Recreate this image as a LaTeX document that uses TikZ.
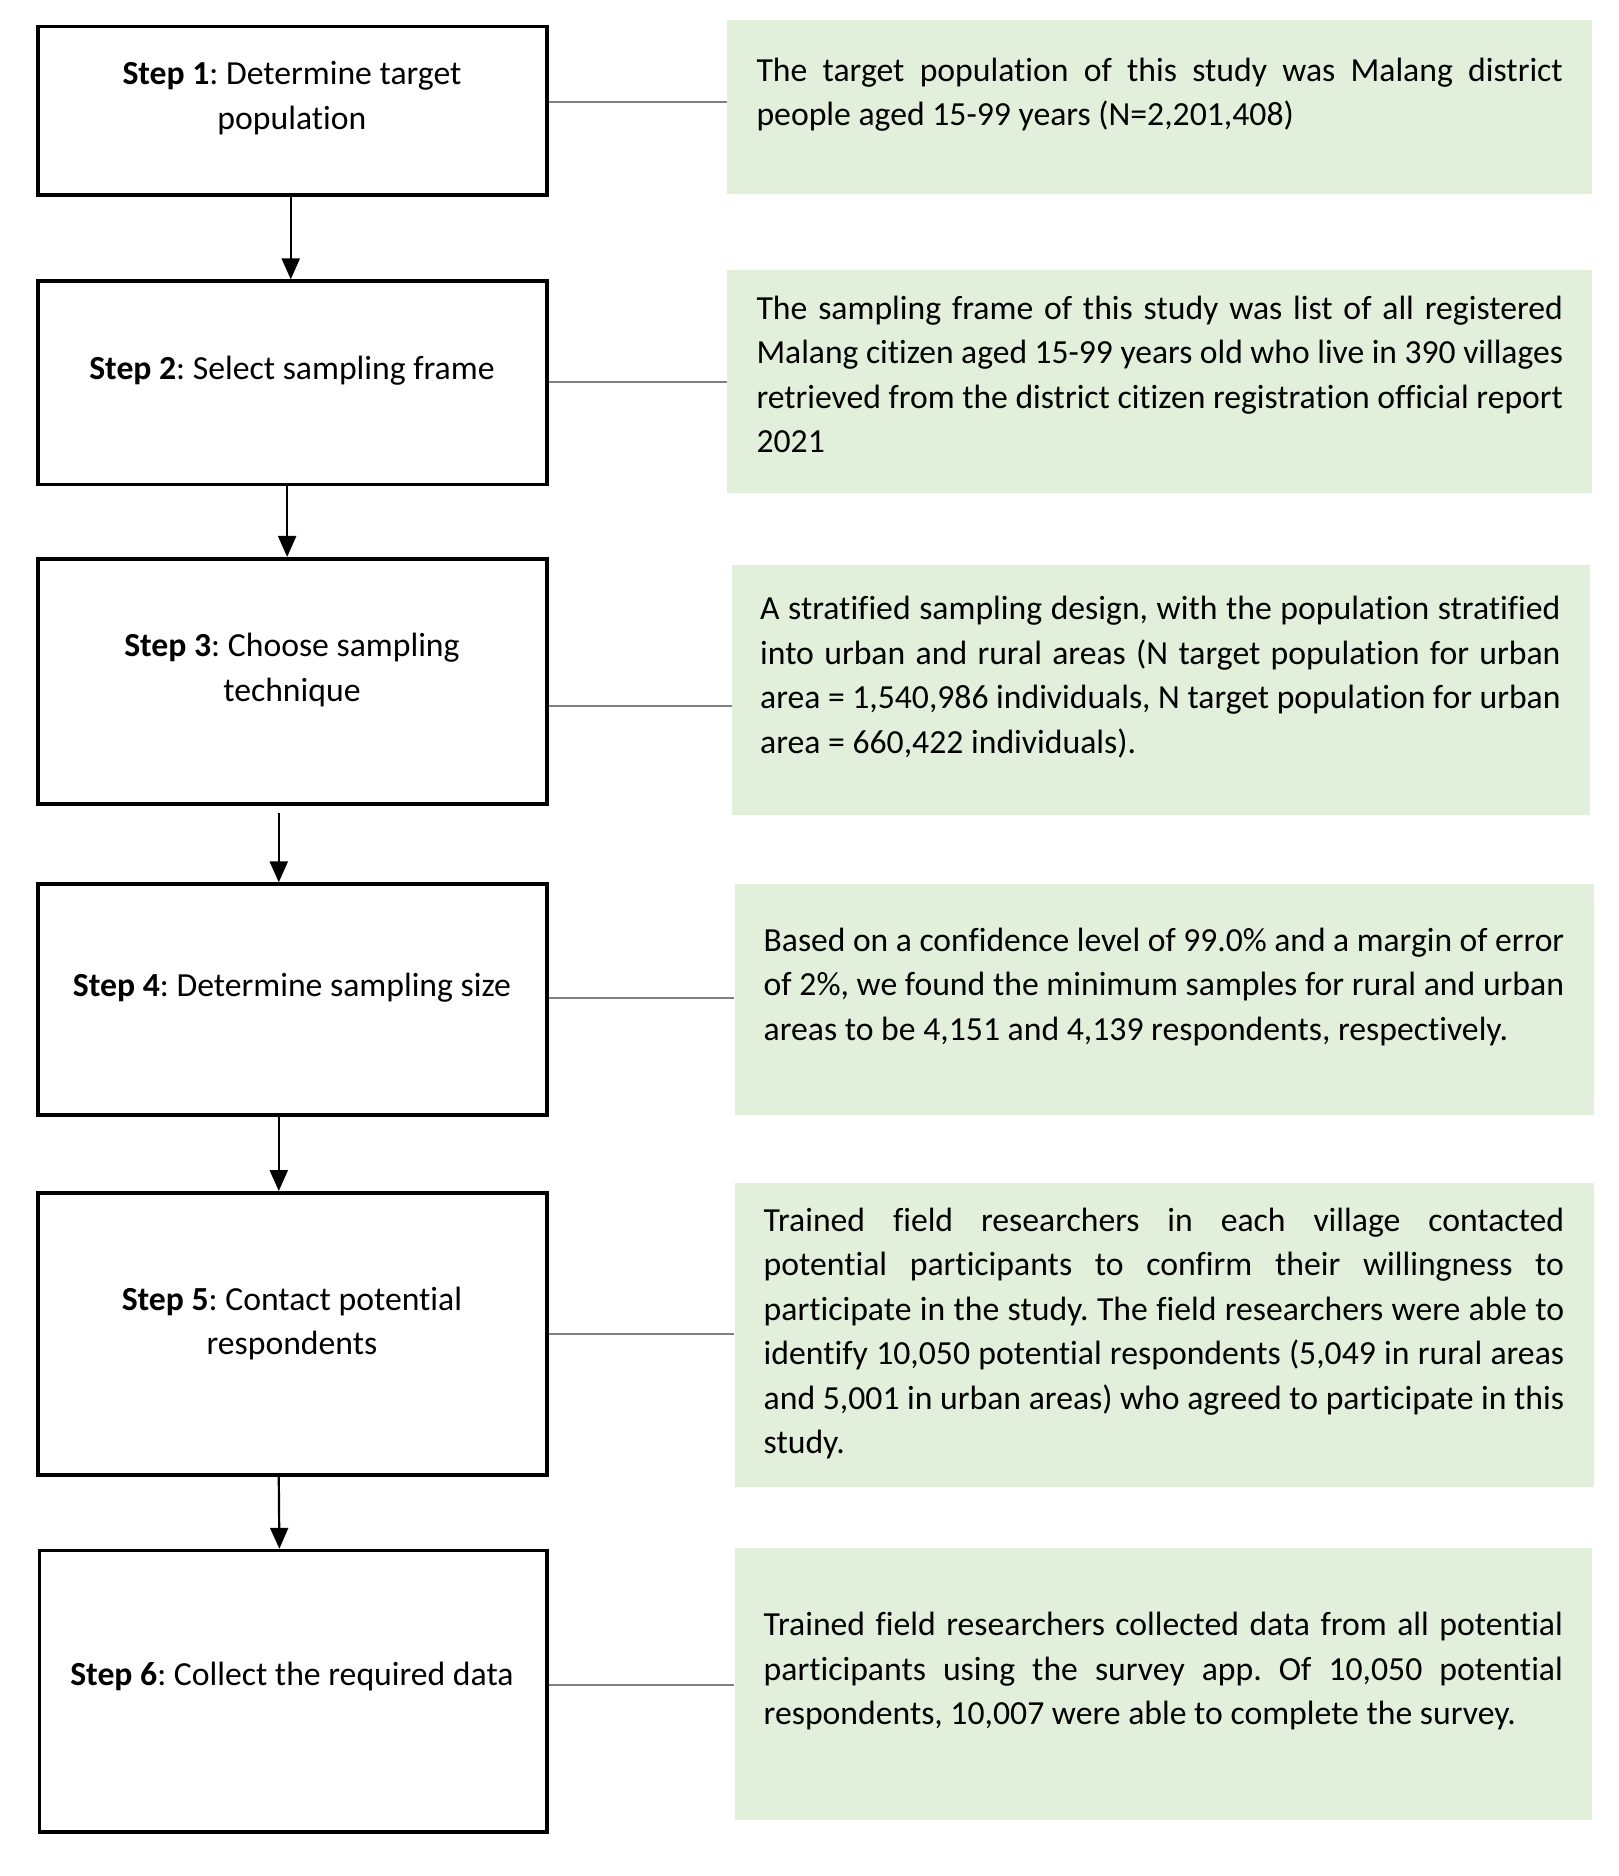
\documentclass[tikz,border=0pt]{standalone}
\usepackage{fontspec}
\setmainfont{Carlito}[Ligatures={NoCommon}]
\usepackage{graphicx}
\usetikzlibrary{fit,arrows.meta}
\definecolor{gfill}{HTML}{E2EFDA}
\definecolor{cgray}{RGB}{128,128,128}
\newlength\jw
\newcommand\jl[1]{\setbox0=\hbox{#1}\ifdim\wd0>\jw\hbox{\resizebox{\jw}{\height}{#1}}\else\hbox to\jw{#1}\fi}
\newcommand\lastl[1]{\hbox{#1}}
\newcommand\cl[1]{\hbox to 0pt{\hss#1\hss}}
\newcommand\desc{\fontsize{16.9pt}{22.3pt}\selectfont\frenchspacing}
\begin{document}
\begin{tikzpicture}[x=0.6pt,y=-0.6pt,
  stepbox/.style={draw=black,line width=1.8pt,inner sep=0pt},
  greenbox/.style={fill=gfill,draw=none,inner sep=0pt},
  desctext/.style={anchor=base west,inner sep=0pt,font=\desc},
  steptext/.style={anchor=base,inner sep=0pt,font=\desc},
  arr/.style={line width=1.1pt,-{Triangle[length=10.5pt,width=9pt]}},
  conn/.style={draw=cgray,line width=1pt}]
\useasboundingbox (0,0) rectangle (1353,1568);
% green boxes
\node[greenbox,fit={(608,17) (1331,162)}] (g1) {};
\node[greenbox,fit={(608,226) (1331,412)}] (g2) {};
\node[greenbox,fit={(612,472) (1329,681)}] (g3) {};
\node[greenbox,fit={(614,739) (1332,932)}] (g4) {};
\node[greenbox,fit={(614,989) (1332,1243)}] (g5) {};
\node[greenbox,fit={(614,1294) (1331,1521)}] (g6) {};
% step boxes
\node[stepbox,fit={(32,22) (457,163)}] (b1) {};
\node[stepbox,fit={(32,235) (457,405)}] (b2) {};
\node[stepbox,fit={(32,467) (457,672)}] (b3) {};
\node[stepbox,fit={(32,739) (457,932)}] (b4) {};
\node[stepbox,fit={(32,997) (457,1233)}] (b5) {};
\node[stepbox,fit={(33,1296) (457,1531)}] (b6) {};
% step texts
\node[steptext] (t1) at (244,71) {\vtop{\cl{\textbf{Step 1}: Determine target}\cl{population}}};
\node[steptext] (t2) at (244,317) {\vtop{\cl{\textbf{Step 2}: Select sampling frame}}};
\node[steptext] (t3) at (244,549) {\vtop{\cl{\textbf{Step 3}: Choose sampling}\cl{technique}}};
\node[steptext] (t4) at (244,833) {\vtop{\cl{\textbf{Step 4}: Determine sampling size}}};
\node[steptext] (t5) at (244,1095) {\vtop{\cl{\textbf{Step 5}: Contact potential}\cl{respondents}}};
\node[steptext] (t6) at (244,1409) {\vtop{\cl{\textbf{Step 6}: Collect the required data}}};
% descriptions
\node[desctext] (d1) at (632,68) {\jw=404.4pt\vtop{%
\jl{The target population of this study was Malang district}%
\lastl{people aged 15-99 years (N=2,201,408)}}};
\node[desctext] (d2) at (632,267) {\jw=404.4pt\vtop{%
\jl{The sampling frame of this study was list of all registered}%
\jl{Malang citizen aged 15-99 years old who live in 390 villages}%
\jl{retrieved from the district citizen registration official report}%
\lastl{2021}}};
\node[desctext] (d3) at (635,518) {\jw=401.4pt\vtop{%
\jl{A stratified sampling design, with the population stratified}%
\jl{into urban and rural areas (N target population for urban}%
\jl{area = 1,540,986 individuals, N target population for urban}%
\lastl{area = 660,422 individuals).}}};
\node[desctext] (d4) at (638,795) {\jw=401.4pt\vtop{%
\jl{Based on a confidence level of 99.0\% and a margin of error}%
\jl{of 2\%, we found the minimum samples for rural and urban}%
\lastl{areas to be 4,151 and 4,139 respondents, respectively.}}};
\node[desctext] (d5) at (638,1029) {\jw=401.4pt\vtop{%
\jl{Trained field researchers in each village contacted}%
\jl{potential participants to confirm their willingness to}%
\jl{participate in the study. The field researchers were able to}%
\jl{identify 10,050 potential respondents (5,049 in rural areas}%
\jl{and 5,001 in urban areas) who agreed to participate in this}%
\lastl{study.}}};
\node[desctext] (d6) at (638,1367) {\jw=400.8pt\vtop{%
\jl{Trained field researchers collected data from all potential}%
\jl{participants using the survey app. Of 10,050 potential}%
\lastl{respondents, 10,007 were able to complete the survey.}}};
% arrows
\draw[arr] ([xshift=-0.9pt]b1.south) -- ([xshift=-0.9pt]b2.north);
\draw[arr] ([xshift=-2.7pt]b2.south) -- ([xshift=-2.7pt]b3.north);
\draw[arr] ([xshift=-6.9pt,yshift=-3.6pt]b3.south) -- ([xshift=-6.9pt]b4.north);
\draw[arr] ([xshift=-6.9pt]b4.south) -- ([xshift=-6.9pt]b5.north);
\draw[arr] ([xshift=-6.9pt]b5.south) -- ([xshift=-6.9pt]b6.north);
% connectors
\draw[conn] ([yshift=2.7pt]g1.west -| b1.east) -- ([yshift=2.7pt]g1.west);
\draw[conn] (g2.west -| b2.east) -- (g2.west);
\draw[conn] ([yshift=-8.1pt]g3.west -| b3.east) -- ([yshift=-8.1pt]g3.west);
\draw[conn] ([yshift=0.9pt]g4.west -| b4.east) -- ([yshift=0.9pt]g4.west);
\draw[conn] ([yshift=0.6pt]g5.west -| b5.east) -- ([yshift=0.6pt]g5.west);
\draw[conn] ([yshift=-0.3pt]g6.west -| b6.east) -- ([yshift=-0.3pt]g6.west);
\end{tikzpicture}
\end{document}
